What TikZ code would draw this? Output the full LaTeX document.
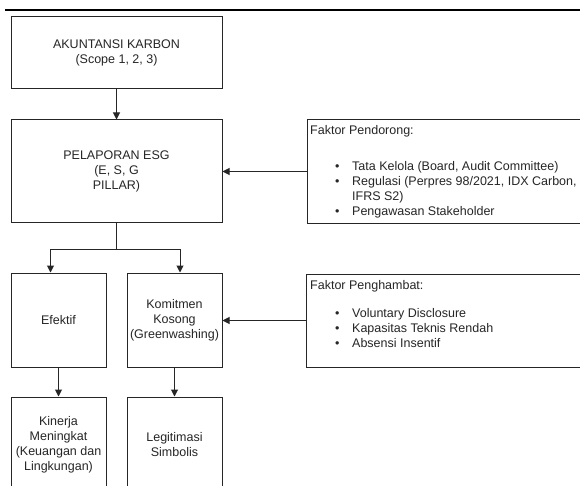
\documentclass[tikz,border=0pt]{standalone}
\usepackage{fontspec}
\setmainfont{Liberation Sans}
\usetikzlibrary{arrows.meta,calc}
\begin{document}
\begin{tikzpicture}[x=1pt,y=-1pt,
  every node/.style={font=\fontsize{12.5}{15}\selectfont, text=black!85},
  box/.style={draw=black!85, line width=1pt, rectangle, inner sep=0pt, align=center},
  conn/.style={draw=black!85, line width=1pt, -{Triangle[width=7pt,length=7pt]}},
  txt/.style={anchor=north west, inner sep=0pt, align=left}]
\useasboundingbox (0,0) rectangle (580,486);
\clip (0,0) rectangle (580,486);
\fill[white] (0,0) rectangle (580,486);
\draw[line width=2pt, black] (5,10) -- (580,10);
\node[box, minimum width=211pt, minimum height=72pt] (akt) at (116.5,53) {AKUNTANSI KARBON\\(Scope 1, 2, 3)};
\node[box, minimum width=211pt, minimum height=102pt] (esg) at (116.5,171) {PELAPORAN ESG\\(E, S, G\\PILLAR)};
\node[box, minimum width=95pt, minimum height=94pt] (eff) at (58.5,320) {Efektif};
\node[box, minimum width=95pt, minimum height=94pt] (kom) at (174.5,320) {Komitmen\\Kosong\\(Greenwashing)};
\node[box, minimum width=95pt, minimum height=96pt] (kin) at (58.5,445) {Kinerja\\Meningkat\\(Keuangan dan\\Lingkungan)};
\node[box, minimum width=95pt, minimum height=96pt] (leg) at (174.5,445) {Legitimasi\\Simbolis};
\node[box, minimum width=293pt, minimum height=103pt] (drv) at (453.5,171.5) {};
\node[box, minimum width=294pt, minimum height=93pt] (inh) at (453,320.5) {};
\node[txt] (drvtxt) at (310,125) {Faktor Pendorong:\\[21pt]
\hspace*{25pt}\makebox[17pt][l]{•}Tata Kelola (Board, Audit Committee)\\
\hspace*{25pt}\makebox[17pt][l]{•}Regulasi (Perpres 98/2021, IDX Carbon,\\
\hspace*{42pt}IFRS S2)\\
\hspace*{25pt}\makebox[17pt][l]{•}Pengawasan Stakeholder};
\node[txt] (inhtxt) at (310,280) {Faktor Penghambat:\\[13pt]
\hspace*{25pt}\makebox[17pt][l]{•}Voluntary Disclosure\\
\hspace*{25pt}\makebox[17pt][l]{•}Kapasitas Teknis Rendah\\
\hspace*{25pt}\makebox[17pt][l]{•}Absensi Insentif};
\draw[conn] (akt.south) -- (esg.north);
\draw[draw=black!85, line width=1pt] (esg.south) -- ++(0,27) coordinate (split);
\draw[conn] (split) -| ([xshift=-8pt]eff.north);
\draw[conn] (split) -| ([xshift=5.5pt]kom.north);
\draw[conn] (drv.west) -- (drv.west -| esg.east);
\draw[conn] (inh.west) -- (inh.west -| kom.east);
\draw[conn] (eff.south) -- (kin.north);
\draw[conn] (kom.south) -- (leg.north);
\end{tikzpicture}
\end{document}
